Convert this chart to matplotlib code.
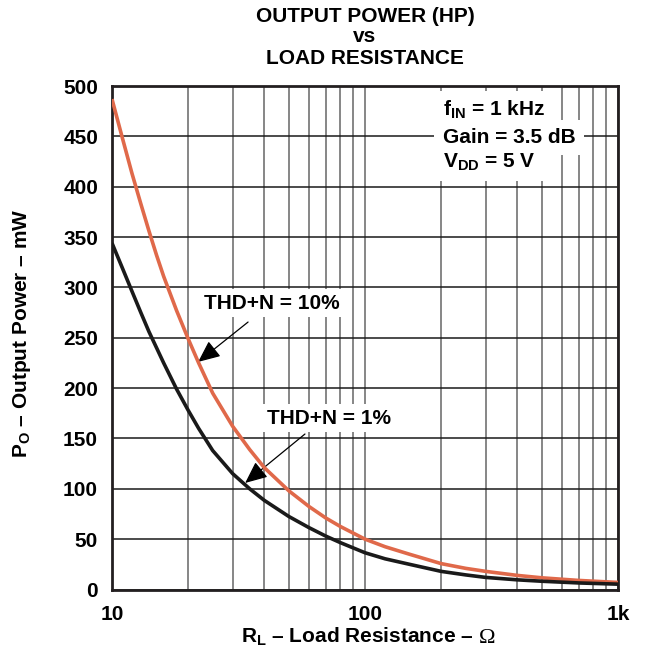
import matplotlib
matplotlib.use("Agg")
import matplotlib.pyplot as plt
from matplotlib.ticker import FixedLocator, FixedFormatter, NullFormatter

# Load resistance (ohms) and output power (mW) for the two distortion limits
load_ohms = [10, 11, 12, 13, 14, 15, 16, 18, 20, 22, 25, 30, 35, 40, 50, 60,
             70, 80, 100, 120, 150, 200, 250, 300, 400, 500, 700, 1000]
power_thd10 = [487, 448, 413, 383, 356, 332, 311, 277, 249, 225, 195, 162,
               139, 121, 98, 82.5, 71, 62.5, 50, 42.5, 35, 25.7, 21, 18, 14,
               11.6, 9, 7]
power_thd1 = [344, 319, 296, 275, 256, 240, 225, 199, 178, 160, 138, 115,
              100, 88.5, 72.5, 61.5, 53, 46.5, 36.5, 30.5, 25, 18, 14.5, 12,
              9.6, 8.2, 6.5, 5.3]

x_major = [10, 100, 1000]
x_major_labels = ["10", "100", "1k"]
x_minor = [20, 30, 40, 50, 60, 70, 80, 90,
           200, 300, 400, 500, 600, 700, 800, 900]
y_ticks = list(range(0, 501, 50))

plt.rcParams.update({
    "font.family": ["Liberation Sans", "DejaVu Sans"],
    "font.weight": "bold",
    "font.size": 15,
    "mathtext.fontset": "custom",
    "mathtext.rm": "Liberation Sans:bold",
    "mathtext.it": "Liberation Sans:bold",
    "mathtext.bf": "Liberation Sans:bold",
})

W, H = 647, 659
fig = plt.figure(figsize=(W / 100, H / 100), dpi=100)
left, right, top, bottom = 112, 618, 86, 589.5
ax = fig.add_axes([left / W, 1 - bottom / H, (right - left) / W, (bottom - top) / H])

ax.set_xscale("log")
ax.set_xlim(10, 1000)
ax.set_ylim(0, 500)

ax.xaxis.set_major_locator(FixedLocator(x_major))
ax.xaxis.set_major_formatter(FixedFormatter(x_major_labels))
ax.xaxis.set_minor_locator(FixedLocator(x_minor))
ax.xaxis.set_minor_formatter(NullFormatter())
ax.yaxis.set_major_locator(FixedLocator(y_ticks))
ax.tick_params(which="both", length=0)
ax.tick_params(axis="x", pad=11, labelsize=15)
ax.tick_params(axis="y", pad=10, labelsize=15)

ax.set_axisbelow(True)
ax.grid(which="both", axis="x", color="#7d7d7d", lw=1.3)
ax.grid(which="major", axis="y", color="#1a1a1a", lw=1.1)
for sp in ax.spines.values():
    sp.set_linewidth(2.0)
    sp.set_color("#231f20")

ax.plot(load_ohms, power_thd10, color="#e0694a", lw=2.6, zorder=4,
        solid_capstyle="butt", solid_joinstyle="round")
ax.plot(load_ohms, power_thd1, color="#1a1a1a", lw=2.6, zorder=4,
        solid_capstyle="butt", solid_joinstyle="round")

box = dict(facecolor="white", edgecolor="none", pad=3)
arrow = dict(arrowstyle="-|>,head_length=0.9,head_width=0.4",
             color="black", lw=0.9, shrinkA=0, shrinkB=0)

ax.text(42.9, 284.5, "THD+N = 10%", ha="center", va="center",
        fontsize=15, bbox=box, zorder=3)
ax.annotate("", xy=(21.9, 226), xytext=(34.5, 265.6),
            arrowprops=arrow, zorder=3)
ax.text(72.1, 170.3, "THD+N = 1%", ha="center", va="center",
        fontsize=15, bbox=box, zorder=3)
ax.annotate("", xy=(33.6, 105.8), xytext=(57.9, 154.4),
            arrowprops=arrow, zorder=3)

cond_box = dict(facecolor="white", edgecolor="none", pad=6)
ax.text(203, 476, "f$_{IN}$ = 1 kHz", ha="left", va="center",
        fontsize=15, bbox=cond_box, zorder=3)
ax.text(203, 449, "Gain = 3.5 dB", ha="left", va="center",
        fontsize=15, bbox=cond_box, zorder=3)
ax.text(203, 424.5, "V$_{DD}$ = 5 V", ha="left", va="center",
        fontsize=15, bbox=cond_box, zorder=3)

cx = (left + right) / 2 / W
for y_px, line in [(16, "OUTPUT POWER (HP)"), (37, "vs"), (58, "LOAD RESISTANCE")]:
    fig.text(cx, 1 - y_px / H, line, ha="center", va="center", fontsize=15)

fig.text(474 / W, 1 - 643 / H, "R$_{L}$ – Load Resistance –",
         ha="right", va="baseline", fontsize=15)
fig.text(479 / W, 1 - 643 / H, "Ω", ha="left", va="baseline",
         fontsize=16, fontweight="normal", family=["Liberation Serif"])

fig.text(22 / W, 1 - 333 / H, "P$_{O}$ – Output Power – mW", ha="center",
         va="center", rotation=90, fontsize=15)

fig.savefig("out.png", dpi=100)
